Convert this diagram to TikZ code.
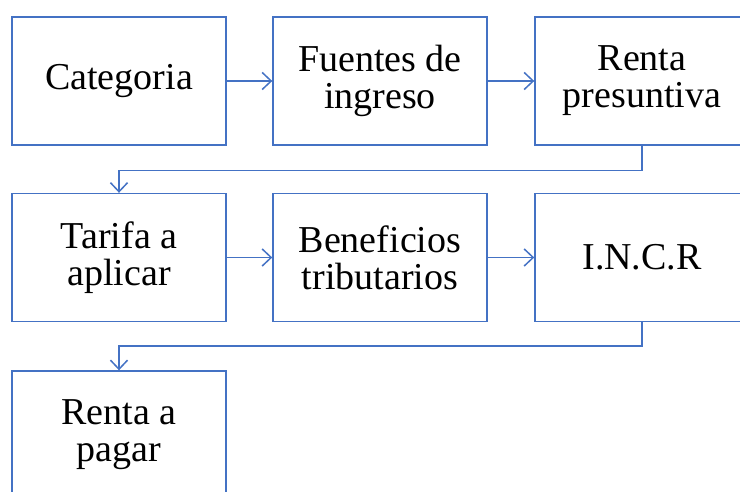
\documentclass[tikz,border=0pt]{standalone}
\usepackage{fontspec}
\setmainfont{Liberation Serif}
\usepackage{tikz}
\usetikzlibrary{arrows.meta}

\definecolor{boxblue}{RGB}{68,114,196}
\tikzset{
    stepbox/.style={draw=boxblue, line width=1.4pt, minimum width=214pt, minimum height=128pt,
        align=center, font=\fontsize{38}{37}\selectfont, inner sep=0pt},
    flow/.style={draw=boxblue, line width=1.5pt, -{Straight Barb[length=9pt,width=17pt,line width=1.5pt]}}
}

\begin{document}
\begin{tikzpicture}[x=1pt,y=-1pt]
    \useasboundingbox (0,0) rectangle (740,492);
    \clip (0,0) rectangle (740,492);
    \node[stepbox] (cat) at (119,81) {Categoria};
    \node[stepbox] (fue) at (380,81) {Fuentes de\\ingreso};
    \node[stepbox] (ren) at (642,81) {Renta\\presuntiva};
    \node[stepbox] (tar) at (119,257.5) {Tarifa a\\aplicar};
    \node[stepbox] (ben) at (380,257.5) {Beneficios\\tributarios};
    \node[stepbox] (inc) at (642,257.5) {I.N.C.R};
    \node[stepbox] (pag) at (119,435) {Renta a\\pagar};
    \draw[flow] (cat) -- (fue);
    \draw[flow] (fue) -- (ren);
    \draw[flow] (ren.south) -- ++(0,25) -| (tar.north);
    \draw[flow] (tar) -- (ben);
    \draw[flow] (ben) -- (inc);
    \draw[flow] (inc.south) -- ++(0,24) -| (pag.north);
\end{tikzpicture}
\end{document}
